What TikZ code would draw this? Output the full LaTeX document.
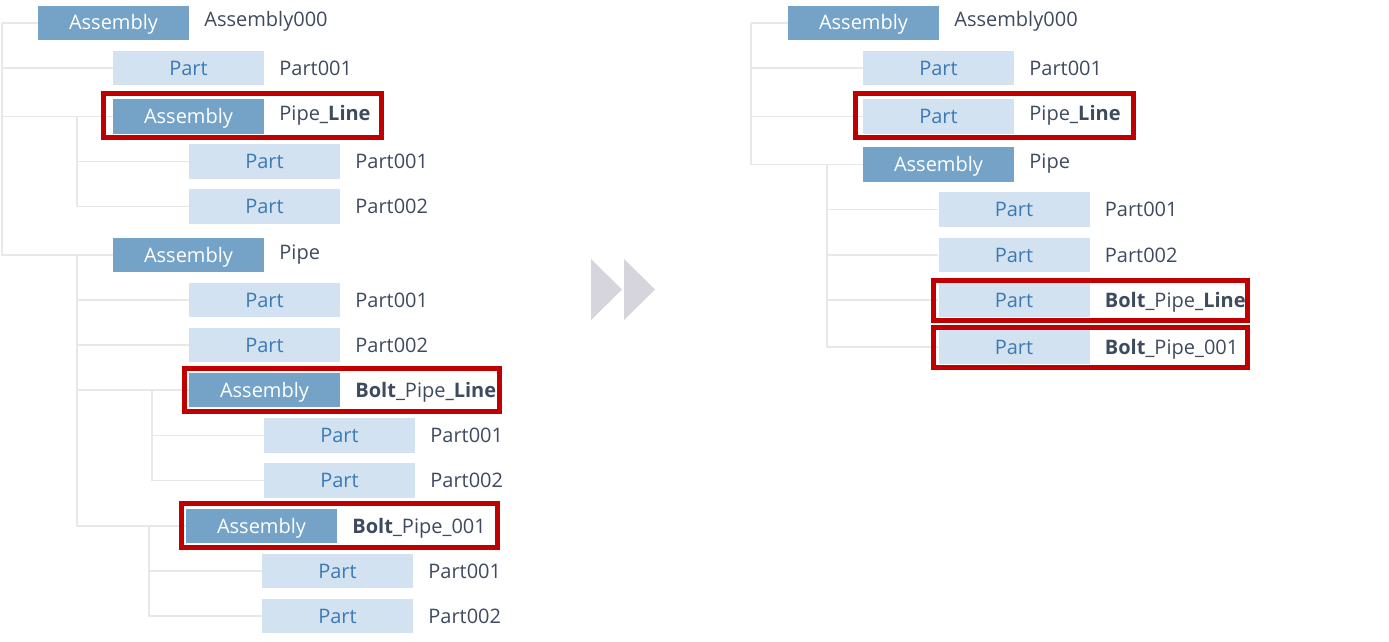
\documentclass[tikz,border=0pt]{standalone}
\usepackage{fontspec}
\setmainfont{Open Sans}
\usetikzlibrary{calc}

\definecolor{asmfill}{HTML}{74A3C7}
\definecolor{partfill}{HTML}{D3E2F0}
\definecolor{parttext}{HTML}{3B7AB5}
\definecolor{labeltext}{HTML}{3E4A5D}
\definecolor{hilite}{HTML}{C00000}
\definecolor{treeline}{HTML}{E8E8E8}
\definecolor{arrowgray}{HTML}{D6D4DD}

\tikzset{
  box/.style={minimum width=151pt, minimum height=34.5pt, inner sep=0pt,
    text height=14pt, text depth=0pt, font=\fontsize{20}{24}\selectfont},
  asm/.style={box, fill=asmfill, text=white},
  prt/.style={box, fill=partfill, text=parttext},
  lbl/.style={anchor=base west, inner sep=0pt, text=labeltext,
    font=\fontsize{20}{24}\selectfont},
  tree/.style={draw=treeline, line width=1.8pt},
  hiframe/.style={draw=hilite, line width=5pt},
  fwd/.style={fill=arrowgray, draw=none},
}

\begin{document}
\begin{tikzpicture}[x=1pt, y=-1pt]
\useasboundingbox (0,0) rectangle (1389,642);

% ---------------- original structure ----------------
\node[asm] (A0) at (113.5,23) {Assembly};
\node[prt] (L1) at (188.5,68) {Part};
\node[asm] (A1) at (188.5,116.5) {Assembly};
\node[prt] (A1a) at (264.5,161.5) {Part};
\node[prt] (A1b) at (264.5,206.5) {Part};
\node[asm] (A2) at (188.5,255) {Assembly};
\node[prt] (A2a) at (264.5,300) {Part};
\node[prt] (A2b) at (264.5,345) {Part};
\node[asm] (A3) at (264.5,390) {Assembly};
\node[prt] (A3a) at (339.5,435.5) {Part};
\node[prt] (A3b) at (339.5,480.5) {Part};
\node[asm] (A4) at (261.5,526) {Assembly};
\node[prt] (A4a) at (337.5,571) {Part};
\node[prt] (A4b) at (337.5,616) {Part};

\node[lbl] (A0t) at ($(A0.east)+(15,4)$) {Assembly000};
\node[lbl] (L1t) at ($(L1.east)+(15,7)$) {Part001};
\node[lbl] (A1t) at ($(A1.east)+(15,4)$) {Pipe\textbf{\_Line}};
\node[lbl] (A1at) at ($(A1a.east)+(15,7)$) {Part001};
\node[lbl] (A1bt) at ($(A1b.east)+(15,7)$) {Part002};
\node[lbl] (A2t) at ($(A2.east)+(15,4)$) {Pipe};
\node[lbl] (A2at) at ($(A2a.east)+(15,7)$) {Part001};
\node[lbl] (A2bt) at ($(A2b.east)+(15,7)$) {Part002};
\node[lbl] (A3t) at ($(A3.east)+(15,7)$) {\textbf{Bolt}\_Pipe\textbf{\_Line}};
\node[lbl] (A3at) at ($(A3a.east)+(15,7)$) {Part001};
\node[lbl] (A3bt) at ($(A3b.east)+(15,7)$) {Part002};
\node[lbl] (A4t) at ($(A4.east)+(15,7)$) {\textbf{Bolt}\_Pipe\_001};
\node[lbl] (A4at) at ($(A4a.east)+(15,7)$) {Part001};
\node[lbl] (A4bt) at ($(A4b.east)+(15,7)$) {Part002};

% tree branches
\coordinate (r0) at ($(A0.west)+(-36,0)$);
\coordinate (r1) at ($(A1.west)+(-36,0)$);
\coordinate (r2) at ($(A2.west)+(-36,0)$);
\coordinate (r3) at ($(A3.west)+(-37,0)$);
\coordinate (r4) at ($(A4.west)+(-37,0)$);
\draw[tree] (r0) -- (A0.west);
\draw[tree] (r0) |- (L1.west);
\draw[tree] (r0) |- (A1.west);
\draw[tree] (r0) |- (A2.west);
\draw[tree] (r1) |- (A1a.west);
\draw[tree] (r1) |- (A1b.west);
\draw[tree] (r2) |- (A2a.west);
\draw[tree] (r2) |- (A2b.west);
\draw[tree] (r2) |- (A3.west);
\draw[tree] (r2) |- (A4.west);
\draw[tree] (r3) |- (A3a.west);
\draw[tree] (r3) |- (A3b.west);
\draw[tree] (r4) |- (A4a.west);
\draw[tree] (r4) |- (A4b.west);

% highlighted entries
\draw[hiframe] (103.5,93.5) rectangle (381.5,137.5);
\draw[hiframe] (184.5,368.5) rectangle (499.5,411.5);
\draw[hiframe] (181.5,503.5) rectangle (497.5,547.5);

% ---------------- forward marker ----------------
\fill[fwd] (591,259) -- (622,289.5) -- (591,320) -- cycle;
\fill[fwd] (624,259) -- (655,289.5) -- (624,320) -- cycle;

% ---------------- resulting structure ----------------
\node[asm] (B0) at (863.5,23) {Assembly};
\node[prt] (M1) at (938.5,68) {Part};
\node[prt] (M2) at (938.5,116.5) {Part};
\node[asm] (B1) at (938.5,164.5) {Assembly};
\node[prt] (B1a) at (1014,209.5) {Part};
\node[prt] (B1b) at (1014,255) {Part};
\node[prt] (B1c) at (1014,300) {Part};
\node[prt] (B1d) at (1014,347) {Part};

\node[lbl] (B0t) at ($(B0.east)+(15,4)$) {Assembly000};
\node[lbl] (M1t) at ($(M1.east)+(15,7)$) {Part001};
\node[lbl] (M2t) at ($(M2.east)+(15,4)$) {Pipe\textbf{\_Line}};
\node[lbl] (B1t) at ($(B1.east)+(15,4)$) {Pipe};
\node[lbl] (B1at) at ($(B1a.east)+(15,7)$) {Part001};
\node[lbl] (B1bt) at ($(B1b.east)+(15,7)$) {Part002};
\node[lbl] (B1ct) at ($(B1c.east)+(15,7)$) {\textbf{Bolt}\_Pipe\textbf{\_Line}};
\node[lbl] (B1dt) at ($(B1d.east)+(15,7)$) {\textbf{Bolt}\_Pipe\_001};

\coordinate (s0) at ($(B0.west)+(-37,0)$);
\coordinate (s1) at ($(B1.west)+(-36,0)$);
\draw[tree] (s0) -- (B0.west);
\draw[tree] (s0) |- (M1.west);
\draw[tree] (s0) |- (M2.west);
\draw[tree] (s0) |- (B1.west);
\draw[tree] (s1) |- (B1a.west);
\draw[tree] (s1) |- (B1b.west);
\draw[tree] (s1) |- (B1c.west);
\draw[tree] (s1) |- (B1d.west);

\draw[hiframe] (855.5,93.5) rectangle (1133.5,137.5);
\draw[hiframe] (933.5,280.5) rectangle (1247.5,320.5);
\draw[hiframe] (933.5,327.5) rectangle (1247.5,367.5);
\end{tikzpicture}
\end{document}
